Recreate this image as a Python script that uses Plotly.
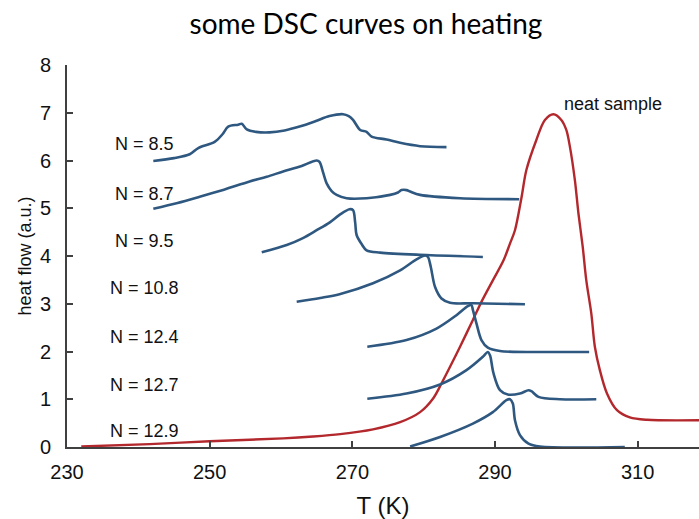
import plotly.graph_objects as go

# ---- data (T in K, heat flow in a.u.) ----
T_85 = [242.1, 245.0, 247.2, 248.4, 250.7, 251.8, 252.6, 254.0, 254.5, 255.2, 256.5, 258.4, 260.5, 262.6, 264.8, 266.8, 268.7, 269.5, 270.1, 271.1, 272.0, 272.7, 274.8, 276.7, 279.5, 283.2]
Q_85 = [5.99, 6.05, 6.13, 6.26, 6.39, 6.55, 6.71, 6.75, 6.77, 6.65, 6.60, 6.59, 6.63, 6.71, 6.82, 6.93, 6.97, 6.93, 6.85, 6.64, 6.60, 6.50, 6.44, 6.37, 6.30, 6.28]

T_87 = [242.1, 245.5, 248.6, 252.0, 255.6, 258.0, 260.3, 262.8, 265.0, 265.4, 265.9, 266.4, 267.1, 267.8, 269.2, 272.0, 275.3, 276.4, 276.9, 277.6, 278.1, 279.5, 285.1, 293.4]
Q_87 = [4.99, 5.11, 5.24, 5.39, 5.56, 5.66, 5.77, 5.88, 6.00, 5.97, 5.75, 5.52, 5.36, 5.28, 5.21, 5.21, 5.28, 5.33, 5.38, 5.38, 5.35, 5.28, 5.21, 5.19]

T_95 = [257.3, 260.8, 263.0, 265.0, 266.8, 268.2, 269.6, 270.1, 270.4, 270.6, 271.3, 272.0, 273.9, 280.4, 288.3]
Q_95 = [4.08, 4.23, 4.37, 4.54, 4.70, 4.86, 4.98, 4.96, 4.70, 4.44, 4.25, 4.12, 4.07, 4.02, 3.98]

T_108 = [262.2, 265.5, 268.2, 272.9, 276.7, 279.0, 280.2, 280.6, 281.0, 281.6, 282.5, 283.7, 286.9, 294.2]
Q_108 = [3.04, 3.12, 3.20, 3.43, 3.70, 3.93, 4.01, 3.98, 3.77, 3.35, 3.11, 3.02, 3.01, 2.99]

T_124 = [272.1, 277.6, 281.8, 284.6, 286.2, 286.7, 286.9, 287.4, 288.1, 289.0, 290.7, 299.1, 303.2]
Q_124 = [2.10, 2.24, 2.48, 2.76, 2.95, 2.97, 2.87, 2.59, 2.24, 2.08, 2.01, 1.99, 1.99]

T_127 = [272.1, 277.6, 282.3, 286.0, 288.3, 289.0, 289.3, 289.8, 290.7, 291.8, 293.5, 294.7, 295.1, 296.1, 299.1, 304.2]
Q_127 = [1.01, 1.12, 1.31, 1.61, 1.89, 1.99, 1.92, 1.54, 1.19, 1.10, 1.12, 1.19, 1.17, 1.05, 1.00, 1.00]

T_129 = [278.1, 282.3, 286.9, 289.7, 291.6, 292.1, 292.5, 292.8, 293.5, 294.7, 296.3, 308.2]
Q_129 = [0.01, 0.21, 0.49, 0.73, 0.98, 1.00, 0.91, 0.56, 0.25, 0.07, 0.01, 0.00]

T_neat = [232.0, 241.6, 250.0, 260.3, 264.5, 268.3, 272.9, 276.7, 279.5, 281.3, 282.5, 283.7, 285.1,
          286.9, 288.1, 289.7, 291.2, 292.1, 292.8, 293.7, 294.4, 295.8, 297.0, 298.2, 299.3, 300.0,
          300.5, 301.2, 301.7, 302.3, 302.8, 303.5, 304.0, 304.7, 305.7, 307.1, 308.9, 311.3, 318.6]
Q_neat = [0.01, 0.06, 0.12, 0.18, 0.22, 0.27, 0.37, 0.52, 0.73, 1.01, 1.33, 1.68, 2.10,
          2.66, 3.04, 3.49, 3.91, 4.26, 4.54, 5.21, 5.80, 6.43, 6.85, 6.97, 6.85, 6.64,
          6.29, 5.59, 4.89, 4.19, 3.49, 2.80, 2.10, 1.61, 1.12, 0.77, 0.62, 0.57, 0.56]

curve_names = ["N = 8.5", "N = 8.7", "N = 9.5", "N = 10.8", "N = 12.4", "N = 12.7", "N = 12.9"]
curves_T = [T_85, T_87, T_95, T_108, T_124, T_127, T_129]
curves_Q = [Q_85, Q_87, Q_95, Q_108, Q_124, Q_127, Q_129]

x_ticks = [230, 250, 270, 290, 310]
y_ticks = [0, 1, 2, 3, 4, 5, 6, 7, 8]

# label anchor positions (layout)
label_T = [240.9] * 7
label_Q = [6.35, 5.30, 4.31, 3.32, 2.31, 1.29, 0.34]

BLUE = "#2F5880"
RED = "#B3282D"
AXIS = "#404040"
FONT = "Liberation Sans"

fig = go.Figure()
fig.add_trace(go.Scatter(x=T_neat, y=Q_neat, mode="lines",
                         line=dict(color=RED, width=2.4, shape="spline", smoothing=0.9),
                         name="neat sample", showlegend=False, hoverinfo="skip"))
for name, tx, qy in zip(curve_names, curves_T, curves_Q):
    fig.add_trace(go.Scatter(x=tx, y=qy, mode="lines",
                             line=dict(color=BLUE, width=2.6, shape="spline", smoothing=0.9),
                             name=name, showlegend=False, hoverinfo="skip"))

for name, lx, ly in zip(curve_names, label_T, label_Q):
    fig.add_annotation(x=lx, y=ly, text=name, showarrow=False, xanchor="center", yanchor="middle",
                       font=dict(family=FONT, size=18, color="#111111"))
fig.add_annotation(x=306.6, y=7.18, text="neat sample", showarrow=False, xanchor="center", yanchor="middle",
                   font=dict(family=FONT, size=18, color="#111111"))

fig.update_layout(
    width=699, height=519,
    margin=dict(l=67, r=0, t=65, b=72),
    paper_bgcolor="white", plot_bgcolor="white",
    title=dict(text="some DSC curves on heating", x=366 / 699, xanchor="center",
               y=1 - 24 / 519, yanchor="middle", yref="container",
               font=dict(family="Lato", size=28, color="#000000")),
    showlegend=False,
)
fig.update_xaxes(range=[230, 318.6], tickvals=x_ticks, ticktext=[str(v) for v in x_ticks],
                 showgrid=False, zeroline=False, showline=True, linecolor=AXIS, linewidth=2,
                 ticks="inside", ticklen=6, tickwidth=1.5, tickcolor=AXIS,
                 tickfont=dict(family=FONT, size=20, color="#111111"),
                 ticklabelstandoff=6,
                 title=dict(text="T (K)", font=dict(family=FONT, size=24, color="#111111"),
                            standoff=15))
fig.update_yaxes(range=[0, 8], tickvals=y_ticks, ticktext=[str(v) for v in y_ticks],
                 showgrid=False, zeroline=False, showline=True, linecolor=AXIS, linewidth=2,
                 ticks="inside", ticklen=6, tickwidth=1.5, tickcolor=AXIS,
                 tickfont=dict(family=FONT, size=20, color="#111111"),
                 ticklabelstandoff=10,
                 title=dict(text="heat flow (a.u.)", font=dict(family=FONT, size=18, color="#111111"),
                            standoff=4))

fig.write_html("out.html")
